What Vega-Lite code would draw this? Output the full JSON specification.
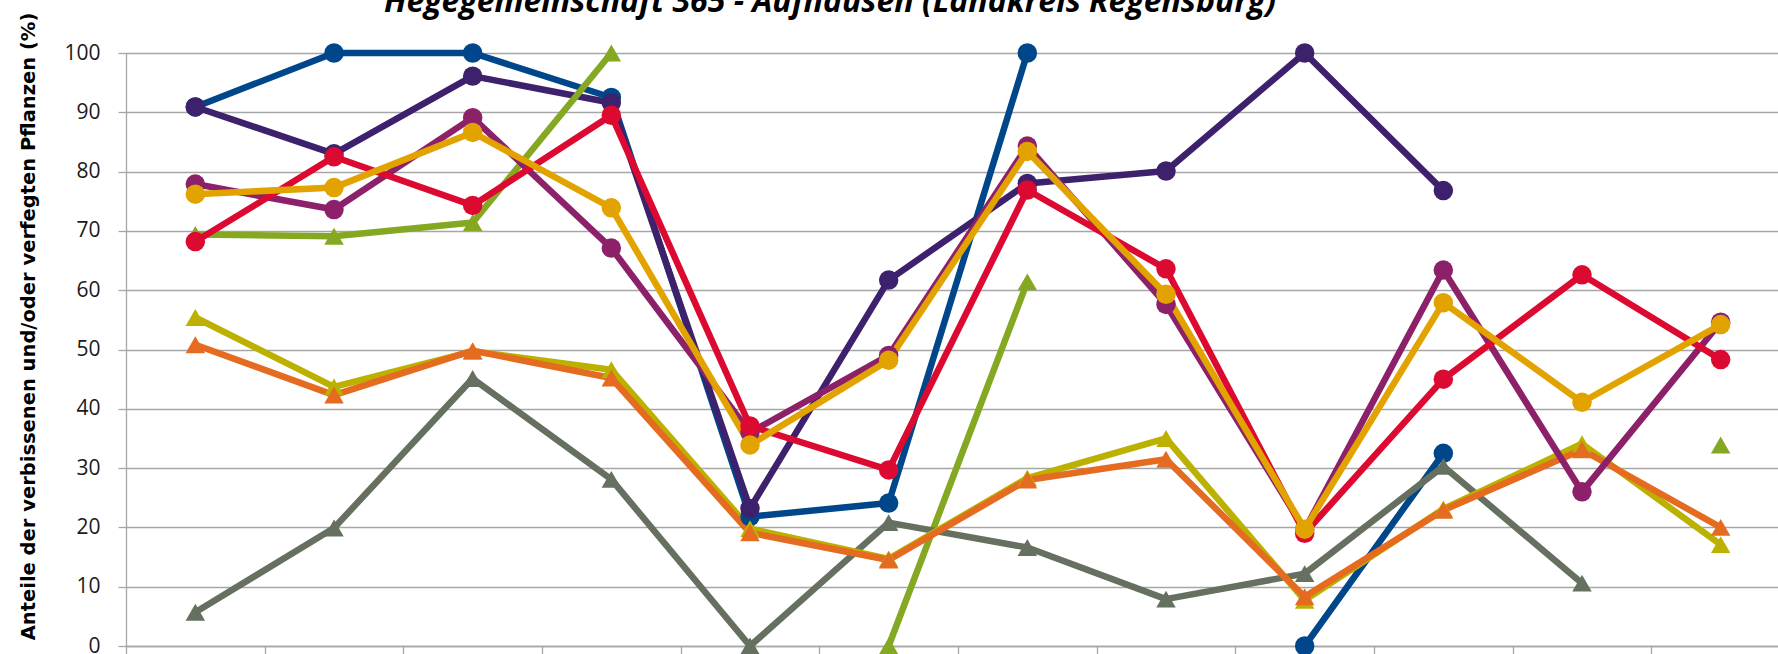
{
  "$schema": "https://vega.github.io/schema/vega-lite/v6.json",
  "width": 1652,
  "height": 593,
  "autosize": {"type": "none"},
  "padding": {"left": 126, "top": 53, "right": 0, "bottom": 8},
  "background": "white",
  "title": {
    "text": "Hegegemeinschaft 365 - Aufhausen (Landkreis Regensburg)",
    "font": "Open Sans",
    "fontSize": 32,
    "fontWeight": "bold",
    "fontStyle": "italic",
    "color": "#000000",
    "anchor": "middle",
    "dx": -122,
    "dy": 32,
    "offset": 0,
    "baseline": "alphabetic"
  },
  "data": {
    "values": [
      {"year": "1991", "series": "Reihe 1", "value": 90.9},
      {"year": "1994", "series": "Reihe 1", "value": 100},
      {"year": "1997", "series": "Reihe 1", "value": 100},
      {"year": "2000", "series": "Reihe 1", "value": 92.5},
      {"year": "2003", "series": "Reihe 1", "value": 21.8},
      {"year": "2006", "series": "Reihe 1", "value": 24.1},
      {"year": "2009", "series": "Reihe 1", "value": 100},
      {"year": "2012", "series": "Reihe 1", "value": null},
      {"year": "2015", "series": "Reihe 1", "value": 0},
      {"year": "2018", "series": "Reihe 1", "value": 32.5},

      {"year": "1991", "series": "Reihe 2", "value": 90.9},
      {"year": "1994", "series": "Reihe 2", "value": 83.0},
      {"year": "1997", "series": "Reihe 2", "value": 96.1},
      {"year": "2000", "series": "Reihe 2", "value": 91.6},
      {"year": "2003", "series": "Reihe 2", "value": 23.2},
      {"year": "2006", "series": "Reihe 2", "value": 61.7},
      {"year": "2009", "series": "Reihe 2", "value": 78.0},
      {"year": "2012", "series": "Reihe 2", "value": 80.1},
      {"year": "2015", "series": "Reihe 2", "value": 100},
      {"year": "2018", "series": "Reihe 2", "value": 76.8},

      {"year": "1991", "series": "Reihe 6", "value": 69.4},
      {"year": "1994", "series": "Reihe 6", "value": 69.1},
      {"year": "1997", "series": "Reihe 6", "value": 71.4},
      {"year": "2000", "series": "Reihe 6", "value": 100},
      {"year": "2003", "series": "Reihe 6", "value": null},
      {"year": "2006", "series": "Reihe 6", "value": 0},
      {"year": "2009", "series": "Reihe 6", "value": 61.4},
      {"year": "2012", "series": "Reihe 6", "value": null},
      {"year": "2015", "series": "Reihe 6", "value": null},
      {"year": "2018", "series": "Reihe 6", "value": null},
      {"year": "2021", "series": "Reihe 6", "value": null},
      {"year": "2024", "series": "Reihe 6", "value": 33.9},

      {"year": "1991", "series": "Reihe 9", "value": 5.7},
      {"year": "1994", "series": "Reihe 9", "value": 19.9},
      {"year": "1997", "series": "Reihe 9", "value": 45.1},
      {"year": "2000", "series": "Reihe 9", "value": 28.1},
      {"year": "2003", "series": "Reihe 9", "value": 0},
      {"year": "2006", "series": "Reihe 9", "value": 20.8},
      {"year": "2009", "series": "Reihe 9", "value": 16.6},
      {"year": "2012", "series": "Reihe 9", "value": 7.9},
      {"year": "2015", "series": "Reihe 9", "value": 12.2},
      {"year": "2018", "series": "Reihe 9", "value": 30.3},
      {"year": "2021", "series": "Reihe 9", "value": 10.6},

      {"year": "1991", "series": "Reihe 7", "value": 55.4},
      {"year": "1994", "series": "Reihe 7", "value": 43.7},
      {"year": "1997", "series": "Reihe 7", "value": 49.7},
      {"year": "2000", "series": "Reihe 7", "value": 46.6},
      {"year": "2003", "series": "Reihe 7", "value": 19.8},
      {"year": "2006", "series": "Reihe 7", "value": 14.7},
      {"year": "2009", "series": "Reihe 7", "value": 28.3},
      {"year": "2012", "series": "Reihe 7", "value": 35.0},
      {"year": "2015", "series": "Reihe 7", "value": 7.7},
      {"year": "2018", "series": "Reihe 7", "value": 23.1},
      {"year": "2021", "series": "Reihe 7", "value": 34.1},
      {"year": "2024", "series": "Reihe 7", "value": 17.1},

      {"year": "1991", "series": "Reihe 8", "value": 50.8},
      {"year": "1994", "series": "Reihe 8", "value": 42.3},
      {"year": "1997", "series": "Reihe 8", "value": 49.8},
      {"year": "2000", "series": "Reihe 8", "value": 45.2},
      {"year": "2003", "series": "Reihe 8", "value": 19.1},
      {"year": "2006", "series": "Reihe 8", "value": 14.5},
      {"year": "2009", "series": "Reihe 8", "value": 28.0},
      {"year": "2012", "series": "Reihe 8", "value": 31.5},
      {"year": "2015", "series": "Reihe 8", "value": 8.3},
      {"year": "2018", "series": "Reihe 8", "value": 22.9},
      {"year": "2021", "series": "Reihe 8", "value": 33.1},
      {"year": "2024", "series": "Reihe 8", "value": 20.0},

      {"year": "1991", "series": "Reihe 3", "value": 77.9},
      {"year": "1994", "series": "Reihe 3", "value": 73.6},
      {"year": "1997", "series": "Reihe 3", "value": 89.1},
      {"year": "2000", "series": "Reihe 3", "value": 67.1},
      {"year": "2003", "series": "Reihe 3", "value": 36.0},
      {"year": "2006", "series": "Reihe 3", "value": 49.0},
      {"year": "2009", "series": "Reihe 3", "value": 84.3},
      {"year": "2012", "series": "Reihe 3", "value": 57.6},
      {"year": "2015", "series": "Reihe 3", "value": 19.6},
      {"year": "2018", "series": "Reihe 3", "value": 63.4},
      {"year": "2021", "series": "Reihe 3", "value": 26.0},
      {"year": "2024", "series": "Reihe 3", "value": 54.6},

      {"year": "1991", "series": "Reihe 4", "value": 68.2},
      {"year": "1994", "series": "Reihe 4", "value": 82.5},
      {"year": "1997", "series": "Reihe 4", "value": 74.3},
      {"year": "2000", "series": "Reihe 4", "value": 89.5},
      {"year": "2003", "series": "Reihe 4", "value": 37.1},
      {"year": "2006", "series": "Reihe 4", "value": 29.7},
      {"year": "2009", "series": "Reihe 4", "value": 76.9},
      {"year": "2012", "series": "Reihe 4", "value": 63.6},
      {"year": "2015", "series": "Reihe 4", "value": 19.0},
      {"year": "2018", "series": "Reihe 4", "value": 45.0},
      {"year": "2021", "series": "Reihe 4", "value": 62.6},
      {"year": "2024", "series": "Reihe 4", "value": 48.3},

      {"year": "1991", "series": "Reihe 5", "value": 76.2},
      {"year": "1994", "series": "Reihe 5", "value": 77.3},
      {"year": "1997", "series": "Reihe 5", "value": 86.6},
      {"year": "2000", "series": "Reihe 5", "value": 73.9},
      {"year": "2003", "series": "Reihe 5", "value": 33.9},
      {"year": "2006", "series": "Reihe 5", "value": 48.2},
      {"year": "2009", "series": "Reihe 5", "value": 83.4},
      {"year": "2012", "series": "Reihe 5", "value": 59.3},
      {"year": "2015", "series": "Reihe 5", "value": 19.7},
      {"year": "2018", "series": "Reihe 5", "value": 57.9},
      {"year": "2021", "series": "Reihe 5", "value": 41.1},
      {"year": "2024", "series": "Reihe 5", "value": 54.2}
    ]
  },
  "encoding": {
    "x": {
      "field": "year",
      "type": "ordinal",
      "sort": null,
      "scale": {"type": "band", "domain": ["1991", "1994", "1997", "2000", "2003", "2006", "2009", "2012", "2015", "2018", "2021", "2024"], "range": [0, 1664], "paddingInner": 0, "paddingOuter": 0},
      "axis": {
        "title": null,
        "labels": false,
        "tickBand": "extent",
        "ticks": true,
        "tickSize": 8,
        "tickColor": "#a6a6a6",
        "tickWidth": 1.3,
        "domain": true,
        "domainColor": "#a6a6a6",
        "domainWidth": 1.3,
        "grid": false
      }
    },
    "y": {
      "field": "value",
      "type": "quantitative",
      "scale": {"domain": [0, 100], "nice": false, "zero": true},
      "axis": {
        "values": [0, 10, 20, 30, 40, 50, 60, 70, 80, 90, 100],
        "title": "Anteile der verbissenen und/oder verfegten Pflanzen (%)",
        "titleFont": "DejaVu Sans",
        "titleFontSize": 19.5,
        "titleFontWeight": "bold",
        "titleColor": "#000000",
        "titleAngle": -90,
        "titleX": -98,
        "titleY": 273,
        "titleAlign": "center",
        "titleBaseline": "middle",
        "labelFont": "Open Sans",
        "labelFontSize": 21,
        "labelColor": "#1a1a1a",
        "labelPadding": 18,
        "tickSize": 8,
        "tickColor": "#a6a6a6",
        "tickWidth": 1.3,
        "domainColor": "#a6a6a6",
        "domainWidth": 1.3,
        "grid": true,
        "gridColor": "#a6a6a6",
        "gridWidth": 1.3
      }
    },
    "color": {
      "field": "series",
      "type": "nominal",
      "sort": null,
      "scale": {
        "domain": ["Reihe 1", "Reihe 2", "Reihe 3", "Reihe 4", "Reihe 5", "Reihe 6", "Reihe 7", "Reihe 8", "Reihe 9"],
        "range": ["#00468a", "#3e216c", "#8c2169", "#dc0a30", "#e2a300", "#84a822", "#bcb000", "#e46b1f", "#657060"]
      },
      "legend": null
    }
  },
  "layer": [
    {
      "mark": {"type": "line", "strokeWidth": 6.5, "strokeJoin": "round", "invalid": "break-paths-filter-domains"}
    },
    {
      "mark": {"type": "point", "filled": true, "opacity": 1, "size": 380, "strokeWidth": 0, "invalid": "filter"},
      "encoding": {
        "shape": {
          "field": "series",
          "type": "nominal",
          "scale": {
            "domain": ["Reihe 1", "Reihe 2", "Reihe 3", "Reihe 4", "Reihe 5", "Reihe 6", "Reihe 7", "Reihe 8", "Reihe 9"],
            "range": ["circle", "circle", "circle", "circle", "circle", "triangle-up", "triangle-up", "triangle-up", "triangle-up"]
          },
          "legend": null
        }
      }
    }
  ],
  "config": {
    "view": {"stroke": null}
  }
}
